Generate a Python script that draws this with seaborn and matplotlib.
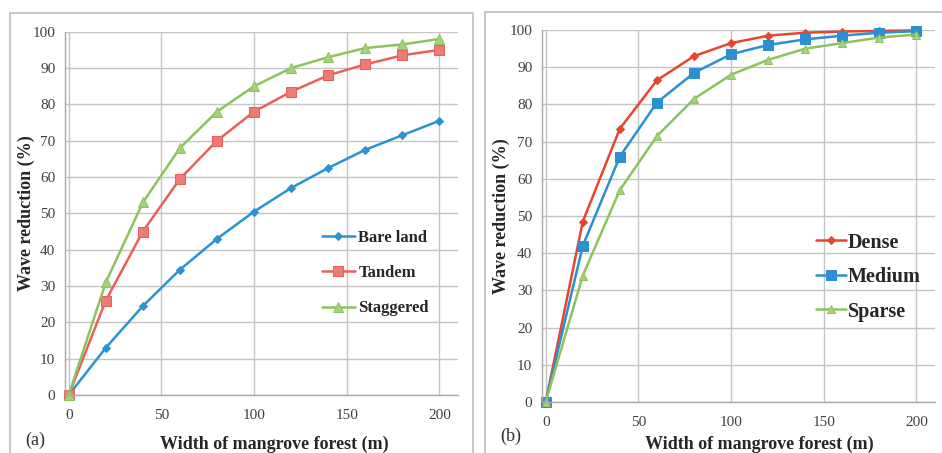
import pandas as pd
import numpy as np
import matplotlib.pyplot as plt
import matplotlib.patches as mpatches
import seaborn as sns

sns.set_theme(style="white")
plt.rcParams['font.family'] = ['Liberation Serif', 'DejaVu Serif']

width_m = [0, 20, 40, 60, 80, 100, 120, 140, 160, 180, 200]

# panel (a)
bare_land = [0, 13, 24.5, 34.5, 43, 50.5, 57, 62.5, 67.5, 71.5, 75.5]
tandem = [0, 26, 45, 59.5, 70, 78, 83.5, 88, 91, 93.5, 95]
staggered = [0, 31, 53, 68, 78, 85, 90, 93, 95.5, 96.5, 98]

# panel (b)
dense = [0, 48.5, 73.5, 86.5, 93, 96.5, 98.5, 99.3, 99.6, 99.8, 99.9]
medium = [0, 42, 66, 80.5, 88.5, 93.5, 96, 97.5, 98.5, 99.3, 99.7]
sparse = [0, 34, 57, 71.5, 81.5, 88, 92, 95, 96.5, 98, 98.8]

x_ticks = [0, 50, 100, 150, 200]
y_ticks = list(range(0, 101, 10))

GRID = '#C4C4C4'


def style_axes(ax, xlab_pos, ylab_pos):
    ax.set_xlim(-2, 210)
    ax.set_ylim(0, 100)
    ax.set_xticks(x_ticks)
    ax.set_yticks(y_ticks)
    ax.grid(True, color=GRID, linewidth=1.0)
    ax.set_axisbelow(True)
    for side in ['top', 'right']:
        ax.spines[side].set_visible(False)
    for side in ['left', 'bottom']:
        ax.spines[side].set_color('#A8A8A8')
        ax.spines[side].set_linewidth(1.0)
    ax.tick_params(axis='both', labelsize=11, colors='#404040', length=0)
    ax.tick_params(axis='x', pad=10)
    ax.tick_params(axis='y', pad=7)
    ax.set_xlabel('Width of mangrove forest (m)', fontsize=13, fontweight='bold')
    ax.set_ylabel('Wave reduction (%)', fontsize=13, fontweight='bold')
    ax.xaxis.set_label_coords(*xlab_pos)
    ax.yaxis.set_label_coords(*ylab_pos)


def draw_series(ax, names, values, styles):
    df = pd.DataFrame({'x': np.tile(width_m, len(names)),
                       'y': np.concatenate(values),
                       'series': np.repeat(names, len(width_m))})
    for name in names:
        color, marker, ms, mfc = styles[name]
        sns.lineplot(data=df[df['series'] == name], x='x', y='y', ax=ax, color=color,
                     marker=marker, markersize=ms, markerfacecolor=mfc,
                     markeredgecolor=color, linewidth=1.8, label=name, clip_on=False)


fig = plt.figure(figsize=(9.42, 4.53), dpi=100)

# chart area borders
fig.patches.append(mpatches.Rectangle((10 / 942, -0.01), 463 / 942, (453 - 13) / 453 + 0.01,
                                      transform=fig.transFigure, fill=False,
                                      edgecolor='#BDBDBD', linewidth=1.2))
fig.patches.append(mpatches.Rectangle((485 / 942, -0.01), 460 / 942, (453 - 12) / 453 + 0.01,
                                      transform=fig.transFigure, fill=False,
                                      edgecolor='#BDBDBD', linewidth=1.2))

ax1 = fig.add_axes([65 / 942, 0.128, 393 / 942, 0.802])
ax2 = fig.add_axes([542 / 942, 0.1126, 393 / 942, 0.821])

styles_a = {
    'Bare land': ('#2B93D1', 'D', 4.5, '#2B93D1'),
    'Tandem': ('#E8605A', 's', 7, '#F07B74'),
    'Staggered': ('#8DC35C', '^', 6.5, '#A5D27E'),
}
draw_series(ax1, ['Bare land', 'Tandem', 'Staggered'],
            [bare_land, tandem, staggered], styles_a)
style_axes(ax1, (0.532, -0.113), (-0.076, 0.5))
ax1.legend(loc='center left', bbox_to_anchor=(0.615, 0.335), frameon=False,
           prop={'weight': 'bold', 'size': 12}, handlelength=2.0, handletextpad=0.2,
           labelspacing=1.15)

styles_b = {
    'Dense': ('#E8452F', 'D', 4.5, '#E8452F'),
    'Medium': ('#2B8FD0', 's', 7, '#2B8FD0'),
    'Sparse': ('#8DC35C', '^', 6, '#A5D27E'),
}
draw_series(ax2, ['Dense', 'Medium', 'Sparse'], [dense, medium, sparse], styles_b)
style_axes(ax2, (0.552, -0.091), (-0.081, 0.5))
ax2.legend(loc='center left', bbox_to_anchor=(0.65, 0.336), frameon=False,
           prop={'weight': 'bold', 'size': 14.5}, handlelength=1.5, handletextpad=0.1,
           labelspacing=0.72)

fig.text(25 / 942, 1 - 440 / 453, '(a)', fontsize=13, va='center', ha='left', color='#303030')
fig.text(500 / 942, 1 - 436 / 453, '(b)', fontsize=13, va='center', ha='left', color='#303030')

plt.savefig('out.png', dpi=100)
plt.close()
